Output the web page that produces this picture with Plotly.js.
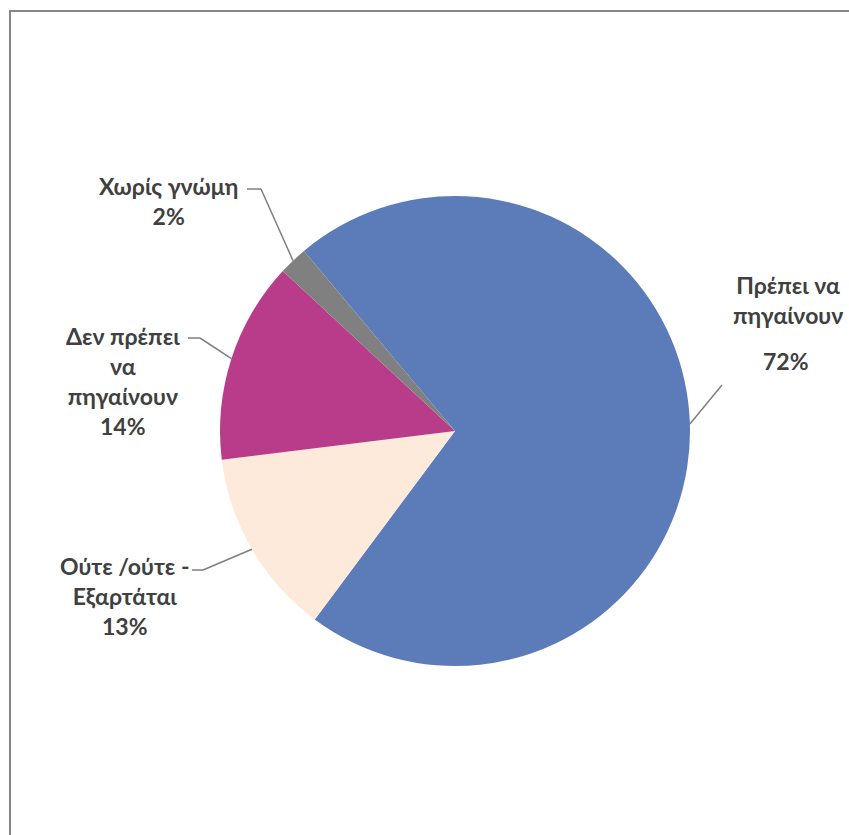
<!DOCTYPE html>
<html>
<head>
<meta charset="utf-8">
<script src="https://cdn.plot.ly/plotly-3.0.1.min.js"></script>
<style>html,body{margin:0;padding:0;background:#fff;}#chart{width:849px;height:835px;}</style>
</head>
<body>
<div id="chart"></div>
<script>
// Data
const labels = ["Πρέπει να πηγαίνουν", "Ούτε /ούτε - Εξαρτάται", "Δεν πρέπει να πηγαίνουν", "Χωρίς γνώμη"];
const labelText = ["Πρέπει να<br>πηγαίνουν", "Ούτε /ούτε -<br>Εξαρτάται", "Δεν πρέπει<br>να<br>πηγαίνουν", "Χωρίς γνώμη"];
const values = [72, 13, 14, 2];
const colors = ["#5B7BB9", "#FDEADA", "#B83C8A", "#808080"];

// Layout constants
const W = 849, H = 835;
const CX = 455, CY = 431, R = 235;
const ROT = -40;
const FONT = {family: "Lato, 'Open Sans', sans-serif", size: 23, color: "#404040", weight: "bold"};
// label name center, percent center (null = same block), leader elbow and start points (px)
const textPos = [[788, 300], [125, 596], [123, 381], [168, 201]];
const pctPos = [[786, 361], null, null, null];
const elbows = [[722, 385], [203, 570], [200, 338], [261, 189]];
const lineStart = [null, [192, 570], [188, 338], [247, 189]];

const domX = [(CX - R) / W, (CX + R) / W];
const domY = [(H - CY - R) / H, (H - CY + R) / H];

const total = values.reduce((a, b) => a + b, 0);
const annotations = [];
const shapes = [{type: "rect", xref: "paper", yref: "paper", x0: 10 / W, y0: -0.05, x1: 1.05, y1: (H - 11) / H,
  line: {color: "#878787", width: 2}, fillcolor: "rgba(0,0,0,0)"}];
let acc = 0;
const px = (x) => x / W, py = (y) => (H - y) / H;
values.forEach((v, i) => {
  const mid = (ROT + (acc + v / 2) / total * 360) * Math.PI / 180;
  acc += v;
  const ex = CX + R * Math.sin(mid), ey = CY - R * Math.cos(mid);
  const el = elbows[i];
  shapes.push({type: "line", xref: "paper", yref: "paper", x0: px(ex), y0: py(ey), x1: px(el[0]), y1: py(el[1]),
    line: {color: "#7f7f7f", width: 1.5}});
  if (lineStart[i]) {
    const ls = lineStart[i];
    shapes.push({type: "line", xref: "paper", yref: "paper", x0: px(ls[0]), y0: py(ls[1]), x1: px(el[0]), y1: py(el[1]),
      line: {color: "#7f7f7f", width: 1.5}});
  }
  const tp = textPos[i];
  if (pctPos[i]) {
    annotations.push({xref: "paper", yref: "paper", x: px(tp[0]), y: py(tp[1]), xanchor: "center", yanchor: "middle",
      text: labelText[i], showarrow: false, align: "center", font: FONT});
    annotations.push({xref: "paper", yref: "paper", x: px(pctPos[i][0]), y: py(pctPos[i][1]), xanchor: "center", yanchor: "middle",
      text: v + "%", showarrow: false, align: "center", font: FONT});
  } else {
    annotations.push({xref: "paper", yref: "paper", x: px(tp[0]), y: py(tp[1]), xanchor: "center", yanchor: "middle",
      text: labelText[i] + "<br>" + v + "%", showarrow: false, align: "center", font: FONT});
  }
});

const data = [{
  type: "pie", labels: labels, values: values, sort: false, direction: "clockwise", rotation: ROT,
  marker: {colors: colors, line: {width: 0}}, textinfo: "none", hoverinfo: "label+percent",
  domain: {x: domX, y: domY}, showlegend: false
}];
const layout = {width: W, height: H, margin: {l: 0, r: 0, t: 0, b: 0}, paper_bgcolor: "#fff",
  showlegend: false, annotations: annotations, shapes: shapes};
Plotly.newPlot("chart", data, layout, {displayModeBar: false, staticPlot: true});
</script>
</body>
</html>
